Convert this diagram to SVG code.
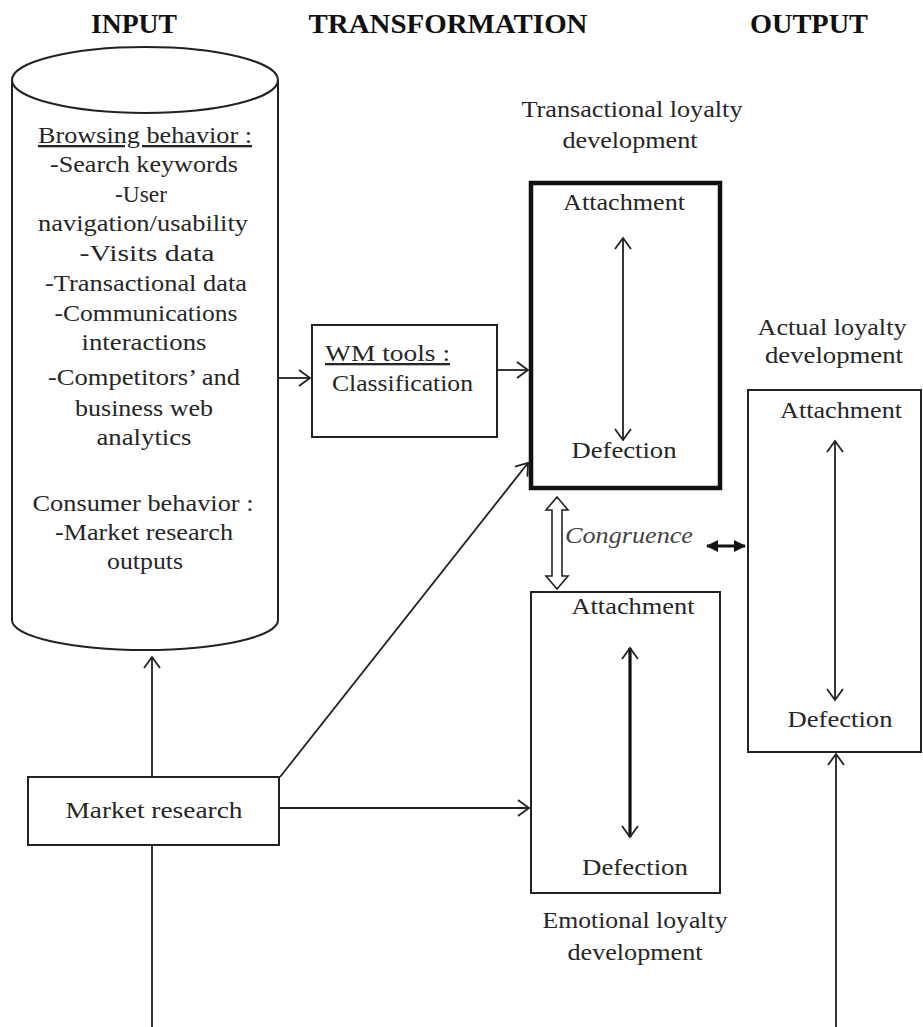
<svg xmlns="http://www.w3.org/2000/svg" width="923" height="1027" viewBox="0 0 923 1027">
<style>
text{font-family:"Liberation Serif","Times New Roman",serif;font-size:23px;fill:#262626;}
.h{font-weight:bold;font-size:28px;fill:#111;text-anchor:middle;}
.c{text-anchor:middle;}
.u{text-decoration:underline;}
.i{font-style:italic;fill:#444;}
.box{fill:#fff;stroke:#222;stroke-width:2;}
.thick{fill:#fff;stroke:#111;stroke-width:4.5;}
.ln{fill:none;stroke:#222;stroke-width:1.8;}
</style>
<defs>
<marker id="oa" markerUnits="userSpaceOnUse" markerWidth="16" markerHeight="20" refX="12" refY="9" orient="auto-start-reverse">
<path d="M1,1 L12,9 L1,17" fill="none" stroke="#222" stroke-width="1.8"/>
</marker>
<marker id="fa" markerUnits="userSpaceOnUse" markerWidth="14" markerHeight="14" refX="11" refY="6" orient="auto-start-reverse">
<path d="M0,0 L12,6 L0,12 z" fill="#111"/>
</marker>
</defs>
<rect width="923" height="1027" fill="#fff"/>

<g id="headers">
<text class="h" x="134" y="33" textLength="86" lengthAdjust="spacingAndGlyphs">INPUT</text>
<text class="h" x="448" y="33" textLength="279" lengthAdjust="spacingAndGlyphs">TRANSFORMATION</text>
<text class="h" x="809" y="33" textLength="118" lengthAdjust="spacingAndGlyphs">OUTPUT</text>
</g>

<g id="cylinder">
<path class="box" d="M12,80 L12,620 A133,30 0 0 0 278,620 L278,80"/>
<ellipse cx="145" cy="80" rx="133" ry="33" fill="#fff" stroke="#222" stroke-width="2"/>
<text class="c u" x="145" y="143" textLength="214" lengthAdjust="spacingAndGlyphs">Browsing behavior :</text>
<text class="c" x="144" y="172" textLength="188" lengthAdjust="spacingAndGlyphs">-Search keywords</text>
<text class="c" x="141" y="202" textLength="52" lengthAdjust="spacingAndGlyphs">-User</text>
<text class="c" x="143" y="231" textLength="210" lengthAdjust="spacingAndGlyphs">navigation/usability</text>
<text class="c" x="147" y="261" textLength="135" lengthAdjust="spacingAndGlyphs">-Visits data</text>
<text class="c" x="146" y="291" textLength="202" lengthAdjust="spacingAndGlyphs">-Transactional data</text>
<text class="c" x="146" y="321" textLength="183" lengthAdjust="spacingAndGlyphs">-Communications</text>
<text class="c" x="144" y="350" textLength="125" lengthAdjust="spacingAndGlyphs">interactions</text>
<text class="c" x="144" y="385" textLength="192" lengthAdjust="spacingAndGlyphs">-Competitors’ and</text>
<text class="c" x="144" y="416" textLength="138" lengthAdjust="spacingAndGlyphs">business web</text>
<text class="c" x="144" y="445" textLength="95" lengthAdjust="spacingAndGlyphs">analytics</text>
<text class="c" x="143" y="511" textLength="221" lengthAdjust="spacingAndGlyphs">Consumer behavior :</text>
<text class="c" x="144" y="540" textLength="178" lengthAdjust="spacingAndGlyphs">-Market research</text>
<text class="c" x="145" y="569" textLength="76" lengthAdjust="spacingAndGlyphs">outputs</text>
</g>

<g id="wm-tools">
<rect class="box" x="312" y="325" width="185" height="112"/>
<text class="u" x="325" y="361" textLength="125" lengthAdjust="spacingAndGlyphs">WM tools :</text>
<text x="332" y="391" textLength="141" lengthAdjust="spacingAndGlyphs">Classification</text>
</g>

<g id="transactional">
<text class="c" x="632" y="117" textLength="221" lengthAdjust="spacingAndGlyphs">Transactional loyalty</text>
<text class="c" x="630" y="148" textLength="135" lengthAdjust="spacingAndGlyphs">development</text>
<rect class="thick" x="531" y="183" width="189" height="305"/>
<text class="c" x="624" y="210" textLength="122" lengthAdjust="spacingAndGlyphs">Attachment</text>
<text class="c" x="624" y="458" textLength="105" lengthAdjust="spacingAndGlyphs">Defection</text>
<line class="ln" x1="623" y1="238" x2="623" y2="440" marker-start="url(#oa)" marker-end="url(#oa)"/>
</g>

<g id="emotional">
<rect class="box" x="531" y="592" width="189" height="301"/>
<text class="c" x="633" y="614" textLength="123" lengthAdjust="spacingAndGlyphs">Attachment</text>
<text class="c" x="635" y="875" textLength="106" lengthAdjust="spacingAndGlyphs">Defection</text>
<line x1="630" y1="648" x2="630" y2="837" stroke="#111" stroke-width="3.2" marker-start="url(#oa)" marker-end="url(#oa)"/>
<text class="c" x="635" y="928" textLength="185" lengthAdjust="spacingAndGlyphs">Emotional loyalty</text>
<text class="c" x="635" y="960" textLength="135" lengthAdjust="spacingAndGlyphs">development</text>
</g>

<g id="actual">
<text class="c" x="832" y="335" textLength="149" lengthAdjust="spacingAndGlyphs">Actual loyalty</text>
<text class="c" x="834" y="363" textLength="138" lengthAdjust="spacingAndGlyphs">development</text>
<rect class="box" x="748" y="390" width="173" height="362"/>
<text class="c" x="841" y="418" textLength="122" lengthAdjust="spacingAndGlyphs">Attachment</text>
<text class="c" x="840" y="727" textLength="105" lengthAdjust="spacingAndGlyphs">Defection</text>
<line class="ln" x1="835" y1="441" x2="835" y2="700" marker-start="url(#oa)" marker-end="url(#oa)"/>
</g>

<g id="market-research">
<rect class="box" x="28" y="777" width="251" height="68"/>
<text class="c" x="154" y="818" textLength="177" lengthAdjust="spacingAndGlyphs">Market research</text>
</g>

<g id="congruence">
<polygon points="557,497 568,510 562,510 562,576 568,576 557,589 546,576 552,576 552,510 546,510" fill="#fff" stroke="#222" stroke-width="1.6" stroke-linejoin="miter"/>
<text class="i" x="565" y="543" textLength="128" lengthAdjust="spacingAndGlyphs">Congruence</text>
</g>

<g id="connectors">
<line class="ln" x1="279" y1="378" x2="310" y2="378" marker-end="url(#oa)"/>
<line class="ln" x1="497" y1="370" x2="528" y2="370" marker-end="url(#oa)"/>
<line class="ln" x1="152" y1="777" x2="152" y2="657" marker-end="url(#oa)"/>
<line class="ln" x1="152" y1="845" x2="152" y2="1027"/>
<line class="ln" x1="279" y1="808" x2="529" y2="808" marker-end="url(#oa)"/>
<line class="ln" x1="280" y1="777" x2="528" y2="463" marker-end="url(#oa)"/>
<line class="ln" x1="836" y1="1027" x2="836" y2="754" marker-end="url(#oa)"/>
<line x1="707" y1="546" x2="745" y2="546" stroke="#111" stroke-width="3" marker-start="url(#fa)" marker-end="url(#fa)"/>
</g>
</svg>
